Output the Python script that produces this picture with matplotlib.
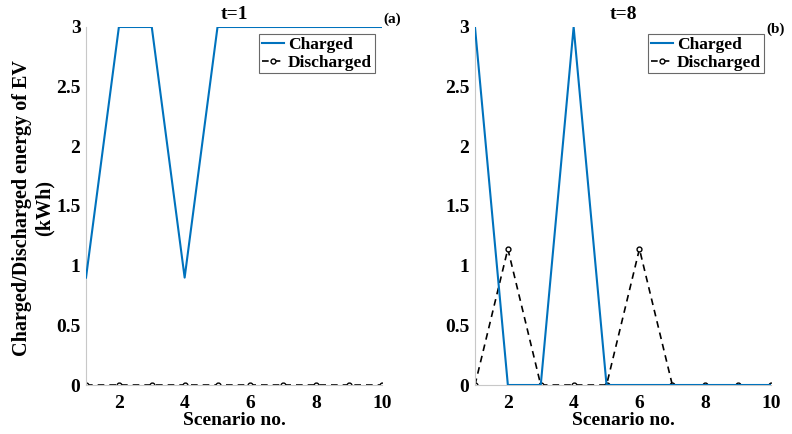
import numpy as np
import matplotlib.pyplot as plt

plt.rcParams['font.family'] = ['Liberation Serif', 'DejaVu Serif']
plt.rcParams['font.weight'] = 'bold'

scenarios = np.arange(1, 11)

# t=1
charged_t1 = [0.9, 3, 3, 0.9, 3, 3, 3, 3, 3, 3]
discharged_t1 = [0, 0, 0, 0, 0, 0, 0, 0, 0, 0]

# t=8
charged_t8 = [3, 0, 0, 3, 0, 0, 0, 0, 0, 0]
discharged_t8 = [0, 1.14, 0, 0, 0, 1.14, 0, 0, 0, 0]

yticks = [0, 0.5, 1, 1.5, 2, 2.5, 3]
ytick_labels = ['0', '0.5', '1', '1.5', '2', '2.5', '3']
xticks = [2, 4, 6, 8, 10]

fig = plt.figure(figsize=(7.92, 4.34), dpi=100)
ax1 = fig.add_axes([0.1086, 0.1129, 0.3736, 0.8249])
ax2 = fig.add_axes([0.5997, 0.1129, 0.3738, 0.8249])

panels = [
    (ax1, charged_t1, discharged_t1, 't=1', '(a)', (1.034, 1.022)),
    (ax2, charged_t8, discharged_t8, 't=8', '(b)', (1.014, 0.995)),
]

for ax, ch, dis, title, tag, tagpos in panels:
    ax.plot(scenarios, ch, color='#0072BD', lw=1.5, label='Charged', zorder=3)
    ax.plot(scenarios, dis, color='black', lw=1.2, ls=(0, (4, 3)), marker='o',
            ms=3.5, mfc='white', mec='black', mew=1.0, label='Discharged', zorder=2)
    ax.set_xlim(1, 10)
    ax.set_ylim(0, 3)
    ax.set_xticks(xticks)
    ax.set_yticks(yticks)
    ax.set_yticklabels(ytick_labels)
    ax.tick_params(labelsize=14, length=0)
    ax.tick_params(axis='x', pad=7)
    ax.tick_params(axis='y', pad=4)
    for s in ['top', 'right']:
        ax.spines[s].set_visible(False)
    for s in ['left', 'bottom']:
        ax.spines[s].set_color('#c8c8c8')
        ax.spines[s].set_linewidth(0.8)
    ax.set_xlabel('Scenario no.', fontsize=14, fontweight='bold', labelpad=0)
    ax.set_title(title, fontsize=14, fontweight='bold', pad=6)
    ax.text(tagpos[0], tagpos[1], tag, transform=ax.transAxes, fontsize=11,
            fontweight='bold', ha='center', va='center', clip_on=False)
    leg = ax.legend(loc='upper right', bbox_to_anchor=(0.975, 0.98), fontsize=12.5,
                    frameon=True, fancybox=False, handlelength=1.3, handletextpad=0.2,
                    borderpad=0.15, labelspacing=0.1, borderaxespad=0)
    leg.get_frame().set_edgecolor('#444444')
    leg.get_frame().set_linewidth(0.8)

# shared y label, two centred lines left of panel (a)
fig.text(33 / 792, 1 - 208 / 434, 'Charged/Discharged energy of EV\n(kWh)',
         rotation=90, ha='center', va='center', fontsize=14.5,
         fontweight='bold', linespacing=1.15, multialignment='center')

fig.savefig('out.png', dpi=100)
